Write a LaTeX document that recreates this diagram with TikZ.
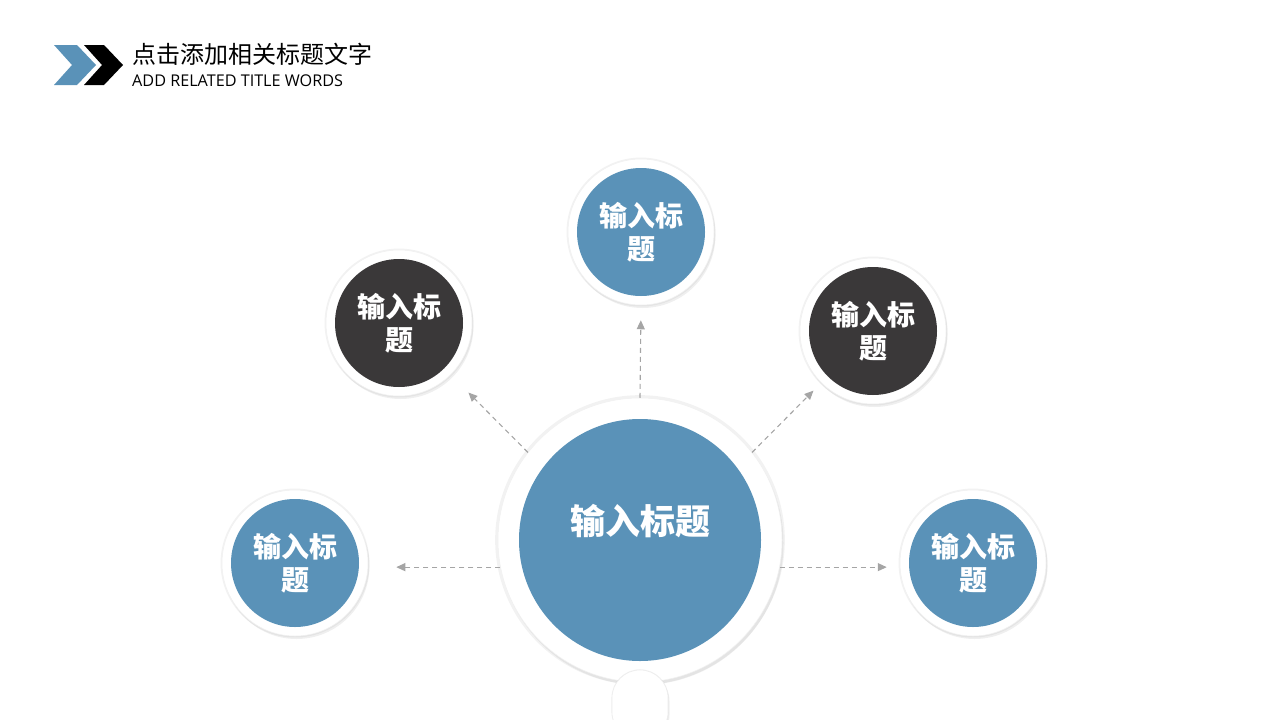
\documentclass[tikz,border=0pt]{standalone}
\usepackage{fontspec}
\setmainfont{Open Sans}
\newfontfamily\cjk{Noto Sans CJK SC}
\usetikzlibrary{positioning,arrows.meta,shadows}
\definecolor{cazul}{HTML}{5A92B8}
\definecolor{coscuro}{HTML}{3A3839}
\definecolor{cgris}{HTML}{A5A5A5}
\tikzset{
  sombra/.style={general shadow={fill=black, opacity=0.05, shadow scale=1.02},
    drop shadow={opacity=0.13, shadow xshift=1.5pt, shadow yshift=-3pt}},
  anillo/.style={circle, fill=white, draw=black!6, line width=0.5pt, inner sep=0pt,
    minimum size=146pt, sombra},
  bolaz/.style={circle, fill=cazul, inner sep=0pt, minimum size=128pt,
    text=white, align=center, font=\cjk\bfseries\fontsize{28}{33}\selectfont},
  bolao/.style={bolaz, fill=coscuro},
  tallo/.style={rectangle, rounded corners=28pt, fill=white, draw=black!7,
    line width=0.6pt, minimum width=56pt, minimum height=70pt, sombra},
  flecha/.style={-{Triangle[length=9pt,width=8pt]}, draw=cgris,
    line width=1.1pt, dash pattern=on 5pt off 4pt},
  etq/.style={anchor=west, inner sep=0pt},
}

\begin{document}
\begin{tikzpicture}[x=1pt, y=-1pt]
  \useasboundingbox (0,0) rectangle (1280,720);
  \clip (0,0) rectangle (1280,720);
  % cabecera
  \fill[cazul] (54,45) -- (77,45) -- (96,65) -- (77,85) -- (54,85) -- (72,65) -- cycle;
  \fill[black] (84,45) -- (104,45) -- (123,65) -- (104,85) -- (84,85) -- (102,65) -- cycle;
  \node[etq, font=\cjk\fontsize{24}{27}\selectfont] (titulo) at (132,54) {点击添加相关标题文字};
  \node[etq, font=\fontsize{16.2}{19}\selectfont] (subtitulo) at (132,81) {ADD RELATED TITLE WORDS};
  % centro
  \node[anillo, minimum size=284pt] (centro) at (640,540) {};
  \node[tallo] (tallo) at (640,705) {};
  \node[bolaz, minimum size=242pt] (centro-in) at (centro) {};
  \node[text=white, font=\cjk\bfseries\fontsize{35}{40}\selectfont] (tcentro)
    at ([yshift=19pt]centro.center) {输入标题};
  % satelites
  \node[anillo] (arriba) at (641,232) {};
  \node[bolaz] (arriba-in) at (arriba) {输入标\\题};
  \node[anillo] (izqa) at (399,323) {};
  \node[bolao] (izqa-in) at (izqa) {输入标\\题};
  \node[anillo] (dera) at (873,331) {};
  \node[bolao] (dera-in) at (dera) {输入标\\题};
  \node[anillo] (izq) at (295,563) {};
  \node[bolaz] (izq-in) at (izq) {输入标\\题};
  \node[anillo] (der) at (973,563) {};
  \node[bolaz] (der-in) at (der) {输入标\\题};
  % flechas
  \draw[flecha, shorten >=15pt] (centro.north) -- (arriba.south);
  \draw[flecha, shorten >=25pt] (centro.142) -- (izqa.-45);
  \draw[flecha, shorten >=11pt] (centro.38) -- (dera.-135);
  \draw[flecha, shorten >=28pt] (centro.191) -- (centro.191 -| izq.east);
  \draw[flecha, shorten >=13pt] (centro.-11) -- (centro.-11 -| der.west);
\end{tikzpicture}
\end{document}
